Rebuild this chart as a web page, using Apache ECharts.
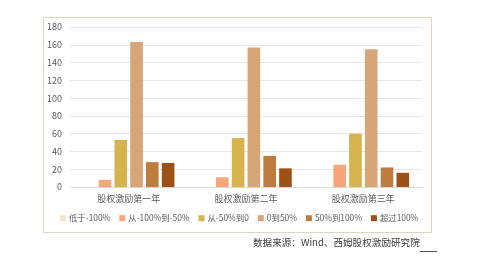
<!DOCTYPE html>
<html><head><meta charset="utf-8">
<script src="https://cdn.jsdelivr.net/npm/echarts@6/dist/echarts.min.js"></script>
<style>html,body{margin:0;padding:0;background:#fff}#c{width:478px;height:262px}</style>
</head><body><div id="c"></div>
<script>
const categories = ['股权激励第一年', '股权激励第二年', '股权激励第三年'];
const seriesNames = ['低于-100%', '从-100%到-50%', '从-50%到0', '0到50%', '50%到100%', '超过100%'];
const below100 = [0, 0, 0];
const m100to50 = [8, 11, 25];
const m50to0 = [53, 55, 60];
const p0to50 = [163, 157, 155];
const p50to100 = [28, 35, 22];
const over100 = [27, 21, 16];
const yTicks = [0, 20, 40, 60, 80, 100, 120, 140, 160, 180];

const values = [below100, m100to50, m50to0, p0to50, p50to100, over100];
const colors = ['#FBE2C6', '#F6A77A', '#D6B34C', '#D8A676', '#BE7D3E', '#9E5019'];
const chart = echarts.init(document.getElementById('c'), null, {renderer: 'canvas'});
const font = '"Noto Sans CJK SC", "Liberation Sans", sans-serif';
chart.setOption({
  animation: false,
  backgroundColor: '#fff',
  textStyle: {fontFamily: font},
  graphic: [
    {type: 'rect', shape: {x: 43.5, y: 17.5, width: 388, height: 215}, style: {fill: 'none', stroke: '#E3D2BE', lineWidth: 1}, z: -1},
    {type: 'text', left: 253, top: 238, style: {text: '数据来源：Wind、西姆股权激励研究院', fill: '#404040', font: '9.6px ' + font}},
    {type: 'line', shape: {x1: 420, y1: 251.5, x2: 437, y2: 251.5}, style: {stroke: '#555', lineWidth: 1}}
  ],
  legend: {
    data: seriesNames, top: 209, left: 55, itemWidth: 6, itemHeight: 6, itemGap: 9,
    icon: 'rect',
    textStyle: {fontSize: 8.4, color: '#595959', fontFamily: font, padding: [0, 0, 0, -2]}
  },
  grid: {left: 70, right: 56, top: 27, bottom: 75},
  xAxis: {
    type: 'category', data: categories,
    axisLine: {lineStyle: {color: '#D9D9D9'}}, axisTick: {show: false},
    axisLabel: {fontSize: 9, color: '#595959', margin: 7}
  },
  yAxis: {
    type: 'value', min: 0, max: yTicks[yTicks.length - 1], interval: 20,
    axisLine: {show: false}, axisTick: {show: false},
    splitLine: {lineStyle: {color: '#E6E6E6'}},
    axisLabel: {fontSize: 9, color: '#595959', margin: 8}
  },
  series: seriesNames.map((n, i) => ({
    name: n, type: 'bar', data: values[i], barGap: '25%', barCategoryGap: '22%',
    itemStyle: {color: colors[i]}
  }))
});
</script></body></html>
